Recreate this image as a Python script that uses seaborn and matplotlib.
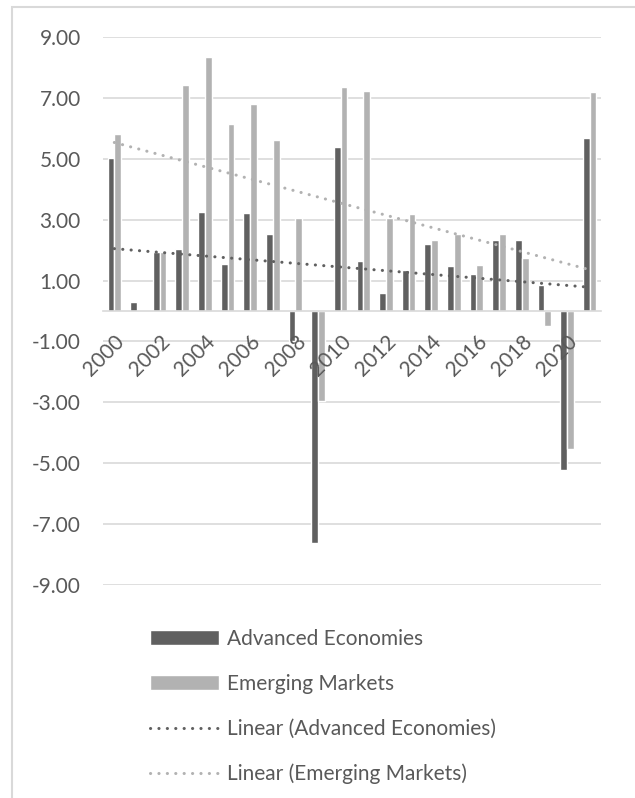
import numpy as np
import pandas as pd
import matplotlib
matplotlib.use("Agg")
import matplotlib.pyplot as plt
import seaborn as sns
from matplotlib.patches import Rectangle, Patch
from matplotlib.lines import Line2D

# data
years = list(range(2000, 2022))
advanced = [5.03, 0.30, 1.95, 2.05, 3.24, 1.55, 3.22, 2.54, -0.98, -7.62, 5.39,
            1.64, 0.60, 1.35, 2.21, 1.47, 1.20, 2.33, 2.32, 0.86, -5.22, 5.68]
emerging = [5.81, 0.00, 1.93, 7.42, 8.33, 6.14, 6.79, 5.63, 3.05, -2.97, 7.37,
            7.23, 3.06, 3.17, 2.34, 2.54, 1.51, 2.54, 1.75, -0.50, -4.54, 7.19]
series = ["Advanced Economies", "Emerging Markets"]

dark = "#606060"
light = "#b2b2b2"
grid_c = "#d9d9d9"
text_c = "#595959"

df = pd.DataFrame({
    "year": [str(y) for y in years] * 2,
    "value": advanced + emerging,
    "series": [series[0]] * len(years) + [series[1]] * len(years),
})

sns.set_style("white")
plt.rcParams["font.family"] = ["Lato", "DejaVu Sans"]

fig = plt.figure(figsize=(6.35, 7.98), dpi=100)
ax = fig.add_axes([103 / 635, 1 - 585 / 798, (601 - 103) / 635, (585 - 37) / 798])

sns.barplot(data=df, x="year", y="value", hue="series", palette=[dark, light],
            width=0.6, gap=0, ax=ax, legend=False, saturation=1)

# linear trend lines
idx = np.arange(len(years))
dots = (0, (0.05, 2.7))
for vals, col in [(advanced, dark), (emerging, light)]:
    k, b = np.polyfit(idx, vals, 1)
    ax.plot(idx, k * idx + b, color=col, lw=2.2, linestyle=dots,
            dash_capstyle="round", zorder=5)

# spines first: moving a spine resets the ticks
for s in ["left", "right", "top"]:
    ax.spines[s].set_visible(False)
ax.spines["bottom"].set_position(("data", 0))
ax.spines["bottom"].set_color(grid_c)
ax.spines["bottom"].set_linewidth(1.2)
ax.set_xlabel("")
ax.set_ylabel("")

ax.set_ylim(-9, 9)
ax.set_xlim(-0.5, len(years) - 0.5)
ax.tick_params(axis="both", length=0)
ax.tick_params(axis="y", pad=16)
ax.tick_params(axis="x", pad=15)

yt = np.arange(-9, 10, 2)
ax.set_yticks(yt)
ax.set_yticklabels([f"{v:.2f}" for v in yt], fontsize=15, color=text_c)
# gridlines drawn by hand so they stay under the bars while the year labels sit on top
ax.grid(False)
for v in yt:
    ax.axhline(v, color=grid_c, lw=1.2, zorder=0.5)
ax.set_axisbelow(False)

ax.set_xticks(idx[::2])
ax.set_xticklabels([str(y) for y in years[::2]], fontsize=15, color=text_c)
plt.setp(ax.get_xticklabels(), rotation=45, ha="right", va="top", rotation_mode="anchor")

handles = [
    Patch(facecolor=dark, label="Advanced Economies"),
    Patch(facecolor=light, label="Emerging Markets"),
    Line2D([], [], color=dark, lw=2.2, linestyle=dots, dash_capstyle="round",
           label="Linear (Advanced Economies)"),
    Line2D([], [], color=light, lw=2.2, linestyle=dots, dash_capstyle="round",
           label="Linear (Emerging Markets)"),
]
leg = fig.legend(handles=handles, loc="upper left", bbox_to_anchor=(131 / 635, 1 - 610 / 798),
                 frameon=False, fontsize=15, labelspacing=1.2, handlelength=3.3,
                 handleheight=0.67, handletextpad=0.4, labelcolor=text_c)

# chart border
fig.patches.append(Rectangle((12 / 635, -0.1), 1.2, 1 - 7 / 798 + 0.1, transform=fig.transFigure,
                             fill=False, edgecolor=grid_c, lw=1.5))

fig.savefig("out.png", dpi=100)
